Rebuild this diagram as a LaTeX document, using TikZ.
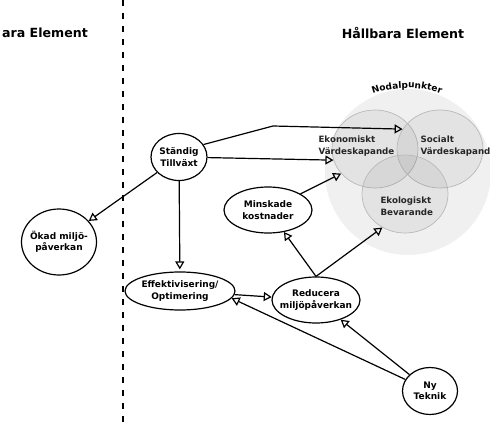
\documentclass[tikz,border=0pt]{standalone}
\usepackage{fontspec}
\setmainfont{DejaVu Sans}
\usetikzlibrary{shapes.geometric,arrows.meta,decorations.text}
\tikzset{
  elem/.style={draw,ellipse,line width=1.2pt,inner xsep=-6pt,inner ysep=0pt,align=center,
    font=\fontsize{9}{11.5}\selectfont\bfseries},
  venn/.style={draw=gray!55,ellipse,fill=black,fill opacity=0.05,line width=0.7pt,inner sep=0pt},
  vtext/.style={anchor=west,align=left,text=black!85,font=\fontsize{8.7}{12}\selectfont\bfseries},
  rubrik/.style={inner sep=0pt,font=\fontsize{12.6}{12.6}\selectfont\bfseries},
  pil/.style={line width=1.2pt,-{Triangle[open,length=8pt,width=9pt]}}
}
\begin{document}
\begin{tikzpicture}[x=1pt,y=-1pt]
\useasboundingbox (0,0) rectangle (490,431);
%rubriker och delning
\node[rubrik,anchor=east] (ohall) at (88,33) {ara Element};
\node[rubrik] (hall) at (403,33) {Hållbara Element};
\draw[line width=1.4pt,dash pattern=on 6pt off 7pt] (123,0) -- (123,426);
%nodalpunkter
\fill[black!6] (408,172) circle (83pt);
\node[venn,minimum width=86pt,minimum height=78pt] (eko) at (375,149) {};
\node[venn,minimum width=86pt,minimum height=78pt] (soc) at (440,149) {};
\node[venn,minimum width=86pt,minimum height=78pt] (ekol) at (405,194) {};
\node[vtext] (ekot) at (315,146) {Ekonomiskt\\Värdeskapande};
\node[vtext] (soct) at (417,146) {Socialt\\Värdeskapand};
\node[vtext] (ekolt) at (377,206) {Ekologiskt\\Bevarande};
\path[decorate,decoration={text along path,text align=center,
  text={|\fontsize{9}{9}\selectfont\bfseries|Nodalpunkter}}]
  (407,188) ++(125:100pt) arc (125:55:100pt);
%element
\node[elem,minimum width=56pt,minimum height=47pt] (st) at (179,157) {Ständig\\Tillväxt};
\node[elem,minimum width=75pt,minimum height=66pt] (okad) at (59,242) {Ökad miljö-\\påverkan};
\node[elem,minimum width=110pt,minimum height=38pt] (eff) at (180,291) {Effektivisering/\\Optimering};
\node[elem,minimum width=88pt,minimum height=46pt] (mk) at (268,210) {Minskade\\kostnader};
\node[elem,minimum width=88pt,minimum height=46pt] (red) at (316,300) {Reducera\\miljöpåverkan};
\node[elem,minimum width=55pt,minimum height=47pt] (ny) at (430,391) {Ny\\Teknik};
%pilar
\coordinate (knick) at (273,126);
\draw[pil] (st.27) -- (knick) -- (soc.152);
\draw[pil] (st) -- (eko.195);
\draw[pil] (st) -- (okad);
\draw[pil,shorten >=2pt] (st) -- (eff);
\draw[pil] (mk) -- (eko.216);
\draw[pil] (eff) -- (red);
\draw[pil] (red.north) -- (mk);
\draw[pil] (red.north) -- (ekol.236);
\draw[pil] (ny) -- (red);
\draw[pil] (ny) -- (eff.-8);
\end{tikzpicture}
\end{document}
